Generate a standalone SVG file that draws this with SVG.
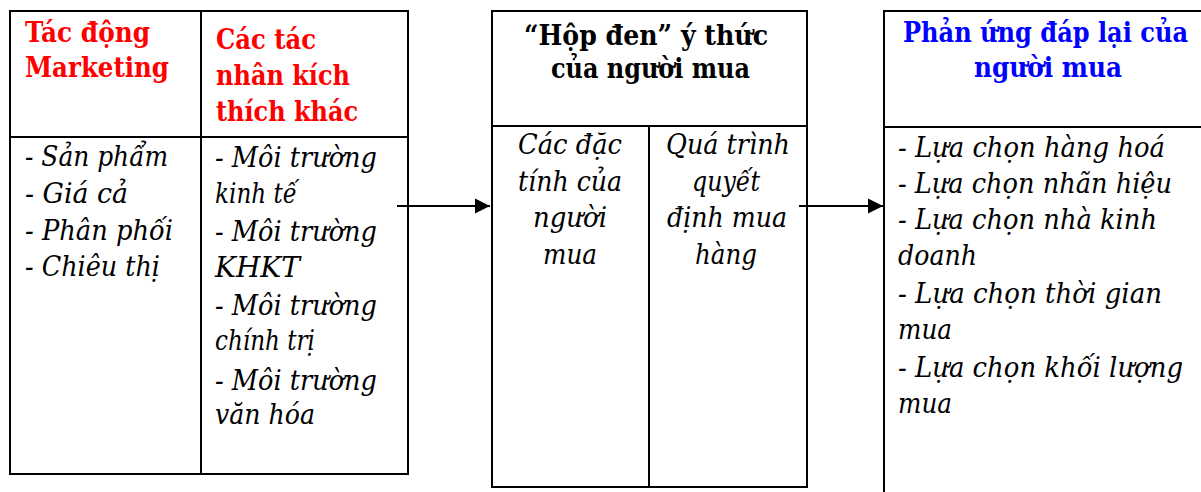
<svg xmlns="http://www.w3.org/2000/svg" width="1201" height="492" viewBox="0 0 1201 492">
  <style>
    .frame { fill: none; stroke: #000; stroke-width: 2; }
    .rule { stroke: #000; stroke-width: 2; }
    text { font-family: "DejaVu Serif", serif; }
    .head { font-weight: bold; font-size: 27.5px; }
    .body { font-style: italic; font-size: 27.5px; fill: #000; }
    .red { fill: #ff0000; }
    .blue { fill: #0000ff; }
    .black { fill: #000; }
    .link { stroke: #000; stroke-width: 2; fill: none; }
  </style>
  <defs>
    <marker id="arrow" markerUnits="userSpaceOnUse" markerWidth="16" markerHeight="16" refX="15" refY="8" orient="auto">
      <path d="M0,0.5 L15,8 L0,15.5 Z" fill="#000"/>
    </marker>
  </defs>
  <rect width="1201" height="492" fill="#fff"/>

  <!-- Stimuli: marketing and other factors -->
  <g id="stimuli">
    <rect class="frame" x="10" y="11" width="398" height="463"/>
    <line class="rule" x1="201" y1="11" x2="201" y2="474"/>
    <line class="rule" x1="10" y1="137" x2="408" y2="137"/>
    <text class="head red" x="25" y="42" textLength="125" lengthAdjust="spacingAndGlyphs">Tác động</text>
    <text class="head red" x="25" y="77" textLength="144" lengthAdjust="spacingAndGlyphs">Marketing</text>
    <text class="head red" x="216" y="49" textLength="100" lengthAdjust="spacingAndGlyphs">Các tác</text>
    <text class="head red" x="216" y="85" textLength="134" lengthAdjust="spacingAndGlyphs">nhân kích</text>
    <text class="head red" x="216" y="121" textLength="142" lengthAdjust="spacingAndGlyphs">thích khác</text>
    <text class="body" x="25" y="166" textLength="143" lengthAdjust="spacingAndGlyphs">- Sản phẩm</text>
    <text class="body" x="25" y="203" textLength="103" lengthAdjust="spacingAndGlyphs">- Giá cả</text>
    <text class="body" x="25" y="240" textLength="148" lengthAdjust="spacingAndGlyphs">- Phân phối</text>
    <text class="body" x="25" y="276" textLength="135" lengthAdjust="spacingAndGlyphs">- Chiêu thị</text>
    <text class="body" x="215" y="167" textLength="162" lengthAdjust="spacingAndGlyphs">- Môi trường</text>
    <text class="body" x="215" y="203" textLength="82" lengthAdjust="spacingAndGlyphs">kinh tế</text>
    <text class="body" x="215" y="241" textLength="162" lengthAdjust="spacingAndGlyphs">- Môi trường</text>
    <text class="body" x="215" y="277" textLength="85" lengthAdjust="spacingAndGlyphs">KHKT</text>
    <text class="body" x="215" y="315" textLength="162" lengthAdjust="spacingAndGlyphs">- Môi trường</text>
    <text class="body" x="215" y="350" textLength="100" lengthAdjust="spacingAndGlyphs">chính trị</text>
    <text class="body" x="215" y="390" textLength="162" lengthAdjust="spacingAndGlyphs">- Môi trường</text>
    <text class="body" x="215" y="424" textLength="100" lengthAdjust="spacingAndGlyphs">văn hóa</text>
  </g>

  <!-- Buyer's black box -->
  <g id="black-box">
    <rect class="frame" x="492" y="11" width="315" height="476"/>
    <line class="rule" x1="492" y1="126" x2="807" y2="126"/>
    <line class="rule" x1="649" y1="126" x2="649" y2="487"/>
    <text class="head black" x="524" y="45" textLength="244" lengthAdjust="spacingAndGlyphs">“Hộp đen” ý thức</text>
    <text class="head black" x="551" y="78" textLength="199" lengthAdjust="spacingAndGlyphs">của người mua</text>
    <text class="body" x="518" y="154" textLength="104" lengthAdjust="spacingAndGlyphs">Các đặc</text>
    <text class="body" x="518" y="191" textLength="104" lengthAdjust="spacingAndGlyphs">tính của</text>
    <text class="body" x="533" y="227" textLength="74" lengthAdjust="spacingAndGlyphs">người</text>
    <text class="body" x="543" y="264" textLength="54" lengthAdjust="spacingAndGlyphs">mua</text>
    <text class="body" x="666" y="154" textLength="124" lengthAdjust="spacingAndGlyphs">Quá trình</text>
    <text class="body" x="692" y="191" textLength="68" lengthAdjust="spacingAndGlyphs">quyết</text>
    <text class="body" x="667" y="227" textLength="120" lengthAdjust="spacingAndGlyphs">định mua</text>
    <text class="body" x="695" y="264" textLength="62" lengthAdjust="spacingAndGlyphs">hàng</text>
  </g>

  <!-- Buyer's responses -->
  <g id="responses">
    <polyline class="frame" points="1201,11 884,11 884,492"/>
    <line class="rule" x1="884" y1="127" x2="1201" y2="127"/>
    <text class="head blue" x="903" y="42" textLength="285" lengthAdjust="spacingAndGlyphs">Phản ứng đáp lại của</text>
    <text class="head blue" x="974" y="77" textLength="148" lengthAdjust="spacingAndGlyphs">người mua</text>
    <text class="body" x="898" y="157" textLength="267" lengthAdjust="spacingAndGlyphs">- Lựa chọn hàng hoá</text>
    <text class="body" x="898" y="193" textLength="274" lengthAdjust="spacingAndGlyphs">- Lựa chọn nhãn hiệu</text>
    <text class="body" x="898" y="229" textLength="259" lengthAdjust="spacingAndGlyphs">- Lựa chọn nhà kinh</text>
    <text class="body" x="898" y="265" textLength="79" lengthAdjust="spacingAndGlyphs">doanh</text>
    <text class="body" x="898" y="303" textLength="264" lengthAdjust="spacingAndGlyphs">- Lựa chọn thời gian</text>
    <text class="body" x="898" y="339" textLength="54" lengthAdjust="spacingAndGlyphs">mua</text>
    <text class="body" x="898" y="377" textLength="285" lengthAdjust="spacingAndGlyphs">- Lựa chọn khối lượng</text>
    <text class="body" x="898" y="413" textLength="54" lengthAdjust="spacingAndGlyphs">mua</text>
  </g>

  <!-- Connectors -->
  <g id="connectors">
    <line class="link" x1="397" y1="206" x2="490" y2="206" marker-end="url(#arrow)"/>
    <line class="link" x1="799" y1="206" x2="883" y2="206" marker-end="url(#arrow)"/>
  </g>
</svg>
